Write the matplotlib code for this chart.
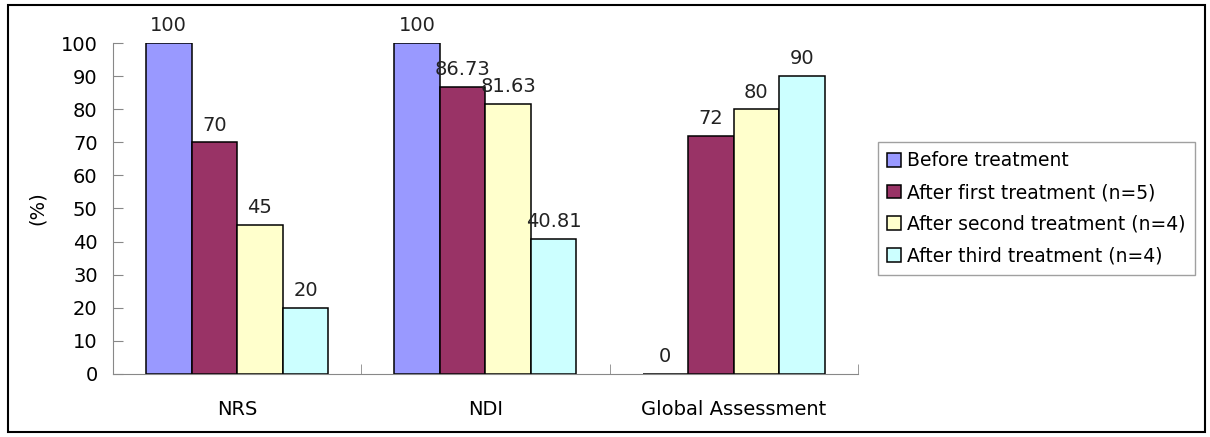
import numpy as np
import matplotlib.pyplot as plt
from matplotlib.patches import Rectangle

categories = ['NRS', 'NDI', 'Global Assessment']
series_names = ['Before treatment', 'After first treatment (n=5)',
                'After second treatment (n=4)', 'After third treatment (n=4)']
before = [100, 100, 0]
first = [70, 86.73, 72]
second = [45, 81.63, 80]
third = [20, 40.81, 90]
value_labels = [['100', '100', '0'],
                ['70', '86.73', '72'],
                ['45', '81.63', '80'],
                ['20', '40.81', '90']]
colors = ['#9999FF', '#993366', '#FFFFCC', '#CCFFFF']

plt.rcParams['font.family'] = ['DejaVu Sans']

fig = plt.figure(figsize=(12.1, 4.37), dpi=100)
ax = fig.add_axes([0.0934, 0.1442, 0.6155, 0.7574])

x = np.arange(len(categories))
width = 0.1835
data = [before, first, second, third]
for i, vals in enumerate(data):
    pos = x + (i - 1.5) * width
    ax.bar(pos, vals, width, color=colors[i], edgecolor='black', linewidth=1.1,
           label=series_names[i])
    for p, v, lab in zip(pos, vals, value_labels[i]):
        ax.text(p, v + 2.3, lab, ha='center', va='bottom', fontsize=14,
                color='#222222')

ax.set_xlim(-0.5, 2.5)
ax.set_ylim(0, 100)
ax.set_yticks(range(0, 101, 10))
ax.set_xticks(x)
ax.set_xticklabels(categories, fontsize=14)
ax.set_xticks([-0.5, 0.5, 1.5, 2.5], minor=True)
ax.tick_params(axis='x', which='major', length=0, pad=19)
ax.tick_params(axis='x', which='minor', direction='in', length=7, color='#888888')
ax.tick_params(axis='y', direction='in', length=7, color='#888888', labelsize=14,
               pad=11)
ax.set_ylabel('(%)', fontsize=14, labelpad=10)

for s in ['top', 'right']:
    ax.spines[s].set_visible(False)
for s in ['left', 'bottom']:
    ax.spines[s].set_color('#888888')

leg = ax.legend(loc='upper left', bbox_to_anchor=(0.7256, 0.675),
                bbox_transform=fig.transFigure, fontsize=13.5, frameon=True,
                fancybox=False, handlelength=0.75, handleheight=0.75,
                handletextpad=0.3, labelspacing=0.68, borderpad=0.5,
                borderaxespad=0)
leg.get_frame().set_edgecolor('#888888')
leg.get_frame().set_linewidth(1)

# outer chart border
fig.patches.append(Rectangle((8 / 1210, 5 / 437), 1197 / 1210, 427 / 437,
                             transform=fig.transFigure, fill=False,
                             edgecolor='black', linewidth=1.5))

fig.savefig('out.png', dpi=100)
